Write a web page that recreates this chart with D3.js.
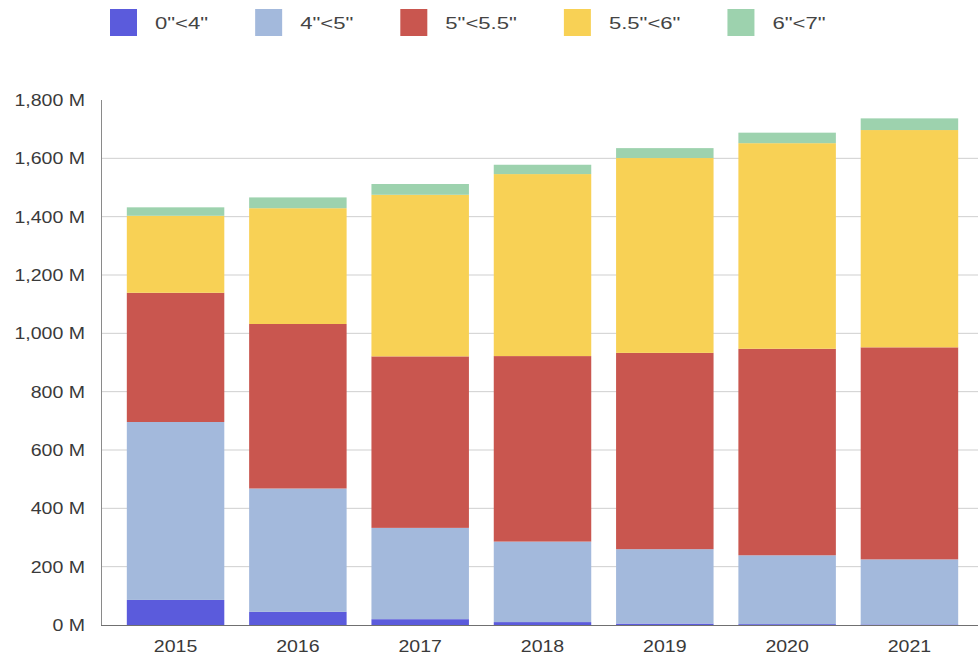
<!DOCTYPE html>
<html>
<head>
<meta charset="utf-8">
<script src="https://cdn.jsdelivr.net/npm/d3@7"></script>
<style>
  html, body { margin: 0; padding: 0; background: #fff; }
  svg { display: block; font-family: "Liberation Sans", Arial, sans-serif; }
</style>
</head>
<body>
<svg id="chart" width="978" height="657"></svg>
<script>
const years = ["2015", "2016", "2017", "2018", "2019", "2020", "2021"];
const seriesNames = ['0"<4"', '4"<5"', '5"<5.5"', '5.5"<6"', '6"<7"'];
const s0to4   = [86, 45, 20, 10, 5, 3, 2];
const s4to5   = [610, 423, 313, 276, 255, 236, 223];
const s5to55  = [443, 564, 588, 636, 673, 708, 727];
const s55to6  = [264, 397, 554, 624, 668, 705, 745];
const s6to7   = [29, 37, 37, 32, 34, 36, 40];
const yTicks = [0, 200, 400, 600, 800, 1000, 1200, 1400, 1600, 1800];
const colors = ["#5b5bdc", "#a3b9dc", "#c9564f", "#f8d155", "#9dd2ae"];

const seriesValues = [s0to4, s4to5, s5to55, s55to6, s6to7];
const table = years.map((y, i) => {
  const row = { year: y };
  seriesNames.forEach((n, k) => row[n] = seriesValues[k][i]);
  return row;
});

const svg = d3.select("#chart");
const axisX = 101, rightX = 978;
const y = d3.scaleLinear().domain([0, 1800]).range([625, 100]);
const x = d3.scaleBand().domain(years).range([114.4, 970.6]).paddingInner(0.203).paddingOuter(0.1015);

const textColor = "#3a3a3a";
const fs = 17;

// gridlines
svg.append("g").selectAll("line")
  .data(yTicks.filter(t => t > 0 && t < 1800))
  .join("line")
  .attr("x1", axisX).attr("x2", rightX)
  .attr("y1", d => y(d)).attr("y2", d => y(d))
  .attr("stroke", "#cfcfcf").attr("stroke-width", 1);

// bars
const stack = d3.stack().keys(seriesNames)(table);
svg.append("g").selectAll("g")
  .data(stack)
  .join("g")
  .attr("fill", (d, i) => colors[i])
  .selectAll("rect")
  .data(d => d)
  .join("rect")
  .attr("x", d => x(d.data.year))
  .attr("width", x.bandwidth())
  .attr("y", d => y(d[1]))
  .attr("height", d => y(d[0]) - y(d[1]));

// y axis line
svg.append("line")
  .attr("x1", axisX + 0.5).attr("x2", axisX + 0.5)
  .attr("y1", y(1800)).attr("y2", y(0))
  .attr("stroke", "#8a8a8a");
// baseline
svg.append("line")
  .attr("x1", axisX).attr("x2", rightX)
  .attr("y1", y(0) + 0.5).attr("y2", y(0) + 0.5)
  .attr("stroke", "#707070");

// y tick labels
const fmt = d3.format(",");
svg.append("g").selectAll("text")
  .data(yTicks)
  .join("text")
  .attr("transform", d => `translate(85,${y(d)}) scale(1.15,1)`)
  .attr("text-anchor", "end")
  .attr("dominant-baseline", "central")
  .attr("font-size", fs)
  .attr("fill", textColor)
  .text(d => fmt(d) + " M");

// x labels
svg.append("g").selectAll("text")
  .data(years)
  .join("text")
  .attr("transform", d => `translate(${x(d) + x.bandwidth() / 2},652) scale(1.15,1)`)
  .attr("text-anchor", "middle")
  .attr("font-size", fs)
  .attr("fill", textColor)
  .text(d => d);

// legend
const legend = svg.append("g");
const legScale = 1.3;
let lx = 110;
seriesNames.forEach((n, i) => {
  legend.append("rect")
    .attr("x", lx).attr("y", 9).attr("width", 27).attr("height", 27)
    .attr("fill", colors[i]);
  const t = legend.append("text")
    .attr("transform", `translate(${lx + 45},23) scale(${legScale},1)`)
    .attr("dominant-baseline", "central")
    .attr("font-size", fs)
    .attr("fill", "#444")
    .text(n);
  const w = t.node().getComputedTextLength() * legScale;
  lx = lx + 45 + w + 47;
});
</script>
</body>
</html>
